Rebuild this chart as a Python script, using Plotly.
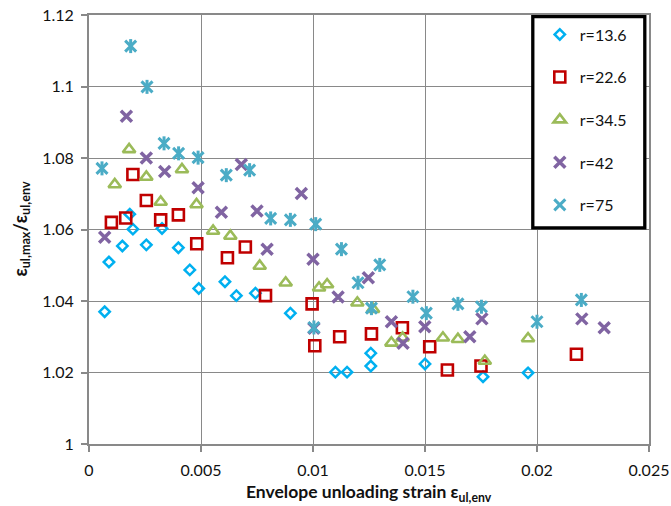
import plotly.graph_objects as go

# Unloading strain ratio vs. envelope unloading strain, grouped by r
x_r136 = [0.0007, 0.00089, 0.00149, 0.00182, 0.00196, 0.00256, 0.00326, 0.00399, 0.0045, 0.0049,
          0.00607, 0.00658, 0.00743, 0.00899, 0.0110, 0.01152, 0.01258, 0.01258, 0.0150, 0.01759, 0.0196]
y_r136 = [1.0370, 1.0509, 1.0554, 1.0643, 1.0601, 1.0557, 1.0603, 1.0549, 1.0487, 1.0435,
          1.0454, 1.0415, 1.0422, 1.0366, 1.0201, 1.0201, 1.0254, 1.0218, 1.0224, 1.0188, 1.0199]

x_r226 = [0.0010, 0.00164, 0.00196, 0.00256, 0.0032, 0.00399, 0.00481, 0.00618, 0.00698, 0.00788,
          0.00996, 0.01008, 0.01119, 0.01261, 0.01399, 0.01521, 0.0160, 0.0175, 0.02176]
y_r226 = [1.0620, 1.0632, 1.0754, 1.0681, 1.0627, 1.0641, 1.0560, 1.0521, 1.0551, 1.0415,
          1.0392, 1.0275, 1.0300, 1.0308, 1.0325, 1.0272, 1.0207, 1.0218, 1.0251]

x_r345 = [0.00115, 0.00179, 0.00256, 0.0032, 0.00415, 0.0048, 0.00554, 0.00631, 0.00762, 0.00878,
          0.01027, 0.01063, 0.01198, 0.01268, 0.0135, 0.0140, 0.0158, 0.01647, 0.01767, 0.0196]
y_r345 = [1.0726, 1.0824, 1.0747, 1.0677, 1.0768, 1.0670, 1.0596, 1.0582, 1.0498, 1.0451,
          1.0437, 1.0446, 1.0395, 1.0377, 1.0283, 1.0297, 1.0297, 1.0293, 1.0232, 1.0295]

x_r42 = [0.0007, 0.00167, 0.00256, 0.00338, 0.00487, 0.00591, 0.0068, 0.0075, 0.00795, 0.00948,
         0.0100, 0.01004, 0.01112, 0.01247, 0.0135, 0.01402, 0.01499, 0.0170, 0.01754, 0.0220, 0.0230]
y_r42 = [1.0578, 1.0917, 1.0800, 1.0762, 1.0717, 1.0648, 1.0782, 1.0652, 1.0545, 1.0701,
         1.0517, 1.0324, 1.0411, 1.0465, 1.0342, 1.0282, 1.0328, 1.0300, 1.0350, 1.0350, 1.0325]

x_r75 = [0.00058, 0.00186, 0.00259, 0.00335, 0.0040, 0.00487, 0.00613, 0.00717, 0.00811, 0.00899,
         0.01012, 0.01004, 0.01127, 0.01201, 0.01261, 0.01298, 0.01446, 0.01506, 0.01647, 0.01752,
         0.0200, 0.02198]
y_r75 = [1.0771, 1.1113, 1.0999, 1.0841, 1.0813, 1.0801, 1.0752, 1.0766, 1.0631, 1.0627,
         1.0615, 1.0326, 1.0545, 1.0451, 1.0380, 1.0501, 1.0412, 1.0366, 1.0392, 1.0384,
         1.0342, 1.0403]

names = ["r=13.6", "r=22.6", "r=34.5", "r=42", "r=75"]
colors = ["#00B0F0", "#C00000", "#9BBB59", "#8064A2", "#4BACC6"]

x_title = "Envelope unloading strain ε<sub>ul,env</sub>"
y_title = "ε<sub>ul,max</sub>/ε<sub>ul,env</sub>"

FONT = "Lato, 'Open Sans', sans-serif"
GRID = "#898989"
INK = "#111111"

fig = go.Figure()


def add(x, y, name, color, symbol, size, lw, group, show=True):
    fig.add_trace(go.Scatter(
        x=x, y=y, mode="markers", name=name, legendgroup=group, showlegend=show,
        marker=dict(symbol=symbol, size=size, color=color,
                    line=dict(color=color, width=lw)),
        hoverinfo="x+y+name",
    ))


add(x_r136, y_r136, names[0], colors[0], "diamond-open", 8, 2.5, "g1")
add(x_r226, y_r226, names[1], colors[1], "square-open", 11, 2.6, "g2")
add(x_r345, y_r345, names[2], colors[2], "triangle-up-open", 11, 2.6, "g3")
add(x_r42, y_r42, names[3], colors[3], "x-thin-open", 11, 3.5, "g4")
# six-armed star: an x plus a vertical stroke
add(x_r75, y_r75, names[4], colors[4], "x-thin-open", 11, 3, "g5")
add(x_r75, y_r75, names[4], colors[4], "line-ns-open", 10, 3, "g5", show=False)

axis_common = dict(
    automargin=False,
    showgrid=True, gridcolor=GRID, gridwidth=1.2,
    showline=True, linecolor=GRID, linewidth=1.8, mirror=True,
    ticks="outside", ticklen=6, tickcolor=GRID, tickwidth=1.5,
    zeroline=False,
    tickfont=dict(family=FONT, size=16, color=INK),
)

fig.update_xaxes(range=[0, 0.025], dtick=0.005, tick0=0, ticklabelstandoff=5, **axis_common)
fig.update_yaxes(range=[1.0, 1.12], dtick=0.02, tick0=1.0, ticklabelstandoff=4, **axis_common)

# axis titles
fig.add_annotation(text=x_title, xref="paper", yref="paper", x=0.5, y=0,
                   xanchor="center", yanchor="middle", yshift=-48.5, showarrow=False,
                   font=dict(family=FONT, size=17.5, color=INK, weight="bold"))
fig.add_annotation(text=y_title, xref="paper", yref="paper", x=0, y=0.5,
                   xanchor="center", yanchor="middle", xshift=-68, textangle=-90,
                   showarrow=False,
                   font=dict(family=FONT, size=18, color=INK, weight="bold"))

# legend frame
fig.add_shape(type="rect", xref="paper", yref="paper",
              x0=0.7925, x1=0.9925, y0=0.504, y1=0.996,
              line=dict(color="black", width=3.3), fillcolor="white", layer="above")

fig.update_layout(
    width=671, height=506,
    margin=dict(l=89, r=22, t=15, b=62, autoexpand=False),
    plot_bgcolor="white", paper_bgcolor="white",
    font=dict(family=FONT, color=INK),
    legend=dict(
        x=0.805, y=0.994, xanchor="left", yanchor="top",
        bgcolor="rgba(0,0,0,0)", borderwidth=0,
        traceorder="grouped", tracegroupgap=18.8,
        font=dict(family=FONT, size=16, color=INK),
    ),
)

fig.write_html("out.html")
